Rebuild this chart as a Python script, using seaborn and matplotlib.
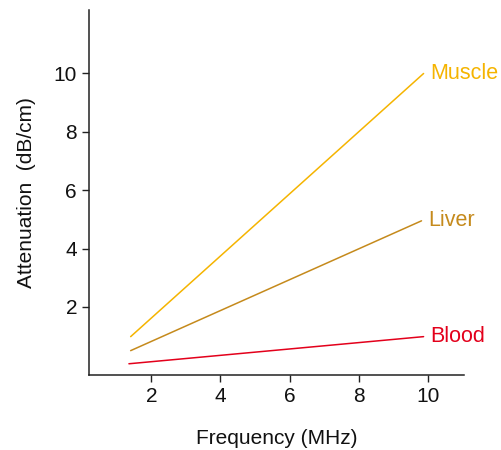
import pandas as pd
import matplotlib
matplotlib.use("Agg")
import matplotlib.pyplot as plt
import seaborn as sns

# Attenuation vs frequency for three tissues
tissues = ["Muscle", "Liver", "Blood"]
freq_start = [1.4, 1.4, 1.35]
freq_end = [9.88, 9.82, 9.88]
atten_start = [0.98, 0.5, 0.05]
atten_end = [10.0, 4.95, 0.98]
colors = {"Muscle": "#f5b400", "Liver": "#c58a1c", "Blood": "#e3001b"}

rows = []
for i, t in enumerate(tissues):
    rows.append({"tissue": t, "freq": freq_start[i], "atten": atten_start[i]})
    rows.append({"tissue": t, "freq": freq_end[i], "atten": atten_end[i]})
df = pd.DataFrame(rows)

sns.set_style("ticks")
plt.rcParams["font.family"] = ["Liberation Sans", "DejaVu Sans"]
plt.rcParams["text.color"] = "#111111"
plt.rcParams["axes.labelcolor"] = "#111111"

fig, ax = plt.subplots(figsize=(5.02, 4.5), dpi=100)
fig.subplots_adjust(left=0.177, right=0.925, top=0.978, bottom=0.167)

sns.lineplot(data=df, x="freq", y="atten", hue="tissue", palette=colors,
             linewidth=1.1, legend=False, ax=ax)

# labels at the end of each line
for i, t in enumerate(tissues):
    ax.text(freq_end[i] + 0.2, atten_end[i], t, color=colors[t],
            fontsize=15.5, va="center", ha="left", clip_on=False)

ax.set_xlim(0.19, 11.06)
ax.set_ylim(-0.33, 12.18)
ax.set_xticks([2, 4, 6, 8, 10])
ax.set_yticks([2, 4, 6, 8, 10])
ax.tick_params(labelsize=15, length=5, width=1, color="#222222",
               labelcolor="#111111")
ax.set_xlabel("Frequency (MHz)", fontsize=15, labelpad=17)
ax.set_ylabel("Attenuation  (dB/cm)", fontsize=15, labelpad=13)
sns.despine(ax=ax)
for s in ["left", "bottom"]:
    ax.spines[s].set_color("#222222")
    ax.spines[s].set_linewidth(1.1)

plt.savefig("out.png", dpi=100)
